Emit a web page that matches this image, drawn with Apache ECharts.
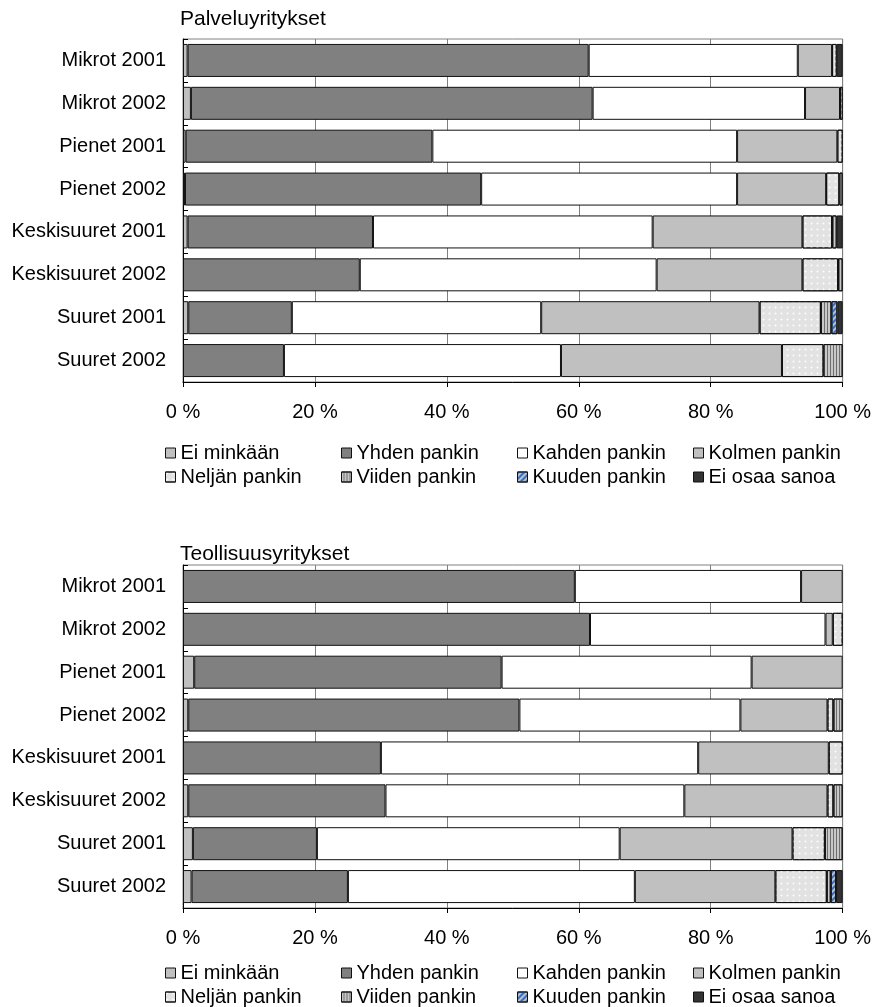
<!DOCTYPE html>
<html>
<head>
<meta charset="utf-8">
<script src="https://cdn.jsdelivr.net/npm/echarts@6/dist/echarts.min.js"></script>
<style>
  html, body { margin: 0; padding: 0; background: #fff; }
  #chart { width: 874px; height: 1007px; }
</style>
</head>
<body>
<div id="chart"></div>
<script>
// Row labels, top to bottom
const categories = ['Mikrot 2001', 'Mikrot 2002', 'Pienet 2001', 'Pienet 2002',
  'Keskisuuret 2001', 'Keskisuuret 2002', 'Suuret 2001', 'Suuret 2002'];

// Answer groups (stack order, left to right)
const seriesNames = ['Ei minkään', 'Yhden pankin', 'Kahden pankin', 'Kolmen pankin',
  'Neljän pankin', 'Viiden pankin', 'Kuuden pankin', 'Ei osaa sanoa'];

const chartTitles = ['Palveluyritykset', 'Teollisuusyritykset'];
const tickValues = [0, 20, 40, 60, 80, 100];

// Shares (%) per answer group, one value per row – service companies
const palveluEiMinkaan   = [0.7, 1.2, 0.4, 0.3, 0.7, 0, 0.8, 0];
const palveluYhden       = [60.8, 60.9, 37.4, 44.9, 28.1, 26.8, 15.7, 15.3];
const palveluKahden      = [31.7, 32.2, 46.2, 38.8, 42.4, 45.0, 37.8, 42.0];
const palveluKolmen      = [5.2, 5.3, 15.2, 13.5, 22.7, 22.1, 33.1, 33.5];
const palveluNeljan      = [0.7, 0.4, 0.8, 2.0, 4.5, 5.4, 9.3, 6.3];
const palveluViiden      = [0, 0, 0, 0.5, 0.7, 0.7, 1.6, 2.9];
const palveluKuuden      = [0, 0, 0, 0, 0, 0, 0.9, 0];
const palveluEiOsaa      = [0.9, 0, 0, 0, 0.9, 0, 0.8, 0];

// Shares (%) per answer group – industrial companies
const teollEiMinkaan     = [0, 0, 1.7, 0.8, 0, 0.8, 1.5, 1.3];
const teollYhden         = [59.4, 61.7, 46.6, 50.2, 30.0, 29.9, 18.8, 23.7];
const teollKahden        = [34.3, 35.7, 37.9, 33.5, 48.1, 45.3, 45.9, 43.5];
const teollKolmen        = [6.3, 1.1, 13.8, 13.2, 19.8, 21.7, 26.2, 21.3];
const teollNeljan        = [0, 1.5, 0, 0.9, 2.1, 0.9, 4.9, 7.8];
const teollViiden        = [0, 0, 0, 1.4, 0, 1.4, 2.7, 0.6];
const teollKuuden        = [0, 0, 0, 0, 0, 0, 0, 0.8];
const teollEiOsaa        = [0, 0, 0, 0, 0, 0, 0, 1.0];

const palveluData = [palveluEiMinkaan, palveluYhden, palveluKahden, palveluKolmen,
  palveluNeljan, palveluViiden, palveluKuuden, palveluEiOsaa];
const teollData = [teollEiMinkaan, teollYhden, teollKahden, teollKolmen,
  teollNeljan, teollViiden, teollKuuden, teollEiOsaa];

const FONT = '"Liberation Sans", Arial, sans-serif';

// Fill styles for each answer group
const fills = [
  { color: '#c0c0c0' },
  { color: '#808080' },
  { color: '#ffffff' },
  { color: '#c0c0c0' },
  { color: '#e2e2e2', decal: { symbol: 'circle', symbolSize: 0.7, dashArrayX: [3, 3], dashArrayY: [3, 3], color: 'rgba(255,255,255,0.9)' } },
  { color: '#c8c8c8', decal: { symbol: 'rect', symbolSize: 1, dashArrayX: [1, 0], dashArrayY: [1, 2], rotation: Math.PI / 2, color: '#6e6e6e' } },
  { color: '#c0c0c0', decal: { symbol: 'rect', symbolSize: 1, dashArrayX: [1, 0], dashArrayY: [2, 2], rotation: -Math.PI / 4, color: '#2f6fd0' } },
  { color: '#333333' }
];

// Panel geometry
const panels = [
  { top: 39, height: 343, titleTop: 9, legendRows: [443, 467] },
  { top: 565, height: 343, titleTop: 544, legendRows: [963, 987] }
];
const legendCols = [165, 341, 517, 693];

const grids = [], xAxes = [], yAxes = [], series = [], titles = [], legends = [];

[palveluData, teollData].forEach(function (dataSet, g) {
  const p = panels[g];
  grids.push({
    left: 183, right: 28, top: p.top, height: p.height,
    show: true, borderColor: '#808080', borderWidth: 1
  });
  titles.push({
    text: chartTitles[g], left: 180, top: p.titleTop, padding: 0,
    textStyle: { fontFamily: FONT, fontSize: 21, fontWeight: 'normal', color: '#000' }
  });
  xAxes.push({
    type: 'value', gridIndex: g, min: 0, max: 100, interval: 20,
    axisLine: { show: true, lineStyle: { color: '#000', width: 1 } },
    axisTick: { show: true, length: 5, lineStyle: { color: '#000' } },
    splitLine: { show: true, lineStyle: { color: '#808080', width: 1 } },
    axisLabel: { formatter: '{value} %', color: '#000', fontFamily: FONT, fontSize: 20, margin: 20 }
  });
  yAxes.push({
    type: 'category', gridIndex: g, data: categories, inverse: true,
    axisLine: { show: true, lineStyle: { color: '#000', width: 1 } },
    axisTick: { show: true, inside: true, length: 5, lineStyle: { color: '#000' } },
    axisLabel: { color: '#000', fontFamily: FONT, fontSize: 20, margin: 17 }
  });
  seriesNames.forEach(function (name, s) {
    series.push({
      type: 'bar', name: name, stack: 'panel' + g,
      xAxisIndex: g, yAxisIndex: g, barWidth: 33,
      silent: true,
      itemStyle: Object.assign({ borderColor: '#111', borderWidth: 1 }, fills[s]),
      data: dataSet[s].map(function (v) { return v === 0 ? '-' : v; })
    });
    const row = s < 4 ? 0 : 1;
    const col = s % 4;
    legends.push({
      data: [name], left: legendCols[col], top: p.legendRows[row],
      icon: 'rect', itemWidth: 10, itemHeight: 10, itemGap: 0, padding: 0,
      selectedMode: false,
      itemStyle: { borderColor: '#111', borderWidth: 1 },
      textStyle: { fontFamily: FONT, fontSize: 20, color: '#000', padding: [0, 0, 0, 0] }
    });
  });
});

const chart = echarts.init(document.getElementById('chart'), null, { renderer: 'canvas' });
chart.setOption({
  backgroundColor: '#fff',
  animation: false,
  textStyle: { fontFamily: FONT },
  title: titles,
  legend: legends,
  grid: grids,
  xAxis: xAxes,
  yAxis: yAxes,
  series: series
});
</script>
</body>
</html>
